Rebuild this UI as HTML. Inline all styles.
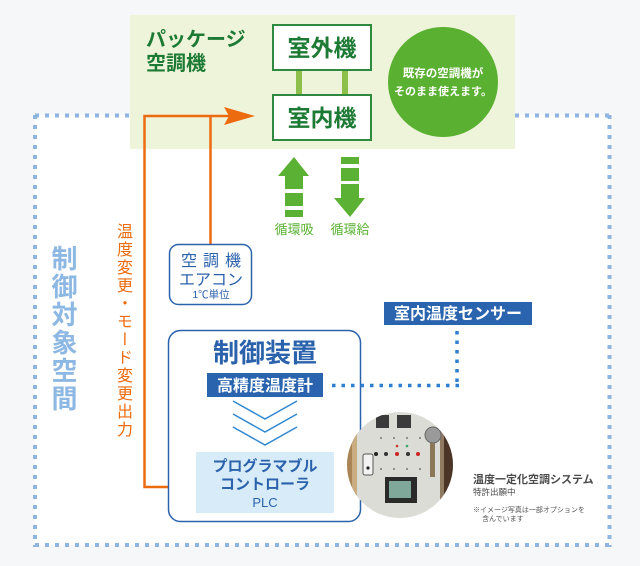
<!DOCTYPE html>
<html><head><meta charset="utf-8">
<style>
html,body{margin:0;padding:0;}
body{width:640px;height:566px;background:#f5f7f9;position:relative;overflow:hidden;font-family:"Liberation Sans","Noto Sans CJK JP",sans-serif;}
svg{position:absolute;left:0;top:0;}
.v{position:absolute;writing-mode:vertical-rl;line-height:1;font-family:"Liberation Sans","Noto Sans CJK JP",sans-serif;white-space:nowrap;}
</style></head><body>
<svg width="640" height="566" viewBox="0 0 640 566" font-family="Liberation Sans, Noto Sans CJK JP, sans-serif">
  <defs>
    <clipPath id="ph"><circle cx="400" cy="465" r="53"/></clipPath>
  </defs>
  <!-- white inner area -->
  <rect x="35" y="115" width="575" height="430" fill="#ffffff"/>
  <!-- dotted border -->
  <g stroke="#8db5e0" stroke-width="4" stroke-dasharray="4 6" fill="none">
    <line x1="35" y1="115.5" x2="610" y2="115.5"/>
    <line x1="35" y1="545" x2="610" y2="545"/>
    <line x1="35" y1="115" x2="35" y2="547"/>
    <line x1="609.5" y1="115" x2="609.5" y2="547"/>
  </g>
  <!-- green package area -->
  <rect x="130" y="15" width="385" height="134" fill="#eef4da"/>
  <text x="146" y="46" font-size="20" font-weight="bold" fill="#1c7a34">パッケージ</text>
  <text x="146" y="70" font-size="20" font-weight="bold" fill="#1c7a34">空調機</text>
  <!-- connector bars -->
  <rect x="296" y="70" width="6" height="25" fill="#8cc04b"/>
  <rect x="342" y="70" width="6" height="25" fill="#8cc04b"/>
  <!-- boxes -->
  <rect x="273" y="25" width="98" height="45" fill="#fff" stroke="#2f8a3f" stroke-width="2"/>
  <text x="322" y="56" font-size="23" font-weight="bold" fill="#1c7a34" text-anchor="middle">室外機</text>
  <rect x="273" y="95" width="98" height="45" fill="#fff" stroke="#2f8a3f" stroke-width="2"/>
  <text x="322" y="126" font-size="23" font-weight="bold" fill="#1c7a34" text-anchor="middle">室内機</text>
  <!-- green circle -->
  <circle cx="443" cy="82" r="55" fill="#5ab031"/>
  <text x="443" y="77" font-size="11.5" font-weight="bold" fill="#fff" text-anchor="middle">既存の空調機が</text>
  <text x="443" y="95" font-size="11" font-weight="bold" fill="#fff" text-anchor="middle">そのまま使えます。</text>

  <!-- orange lines -->
  <g stroke="#ec6b0e" stroke-width="2.5" fill="none">
    <polyline points="168,487 144.5,487 144.5,116 232,116"/>
    <line x1="210.5" y1="116" x2="210.5" y2="244"/>
  </g>
  <polygon points="224,107 255,116 224,125 229,116" fill="#ec6b0e"/>

  <!-- green arrows -->
  <g fill="#5bb133">
    <polygon points="294,157 309,176 303,176 303,189 285,189 285,176 278,176"/>
    <rect x="285" y="193" width="18" height="13"/>
    <rect x="285" y="210" width="18" height="7"/>
    <rect x="341" y="157" width="18" height="7"/>
    <rect x="341" y="168" width="18" height="13"/>
    <polygon points="341,184 359,184 359,198 365,198 350,217 334,198 341,198"/>
  </g>
  <text x="294" y="234" font-size="13" fill="#5bb133" text-anchor="middle">循環吸</text>
  <text x="350" y="234" font-size="13" fill="#5bb133" text-anchor="middle">循環給</text>

  <!-- aircon box -->
  <rect x="169.5" y="244.5" width="82" height="60" rx="9" fill="#fff" stroke="#2b62ac" stroke-width="1.5"/>
  <text x="214" y="266" font-size="16" fill="#2b62ac" text-anchor="middle" letter-spacing="6">空調機</text>
  <text x="211" y="285" font-size="16" fill="#2b62ac" text-anchor="middle">エアコン</text>
  <text x="211" y="298" font-size="10.5" fill="#2b62ac" text-anchor="middle">1℃単位</text>

  <!-- control device box -->
  <rect x="168.5" y="330.5" width="192" height="191" rx="12" fill="#fff" stroke="#2b62ac" stroke-width="1.5"/>
  <text x="265" y="362" font-size="26" font-weight="bold" fill="#2b62ac" text-anchor="middle">制御装置</text>
  <rect x="207" y="373" width="116" height="24" fill="#2a63ae"/>
  <text x="265" y="391" font-size="16" font-weight="bold" fill="#fff" text-anchor="middle">高精度温度計</text>
  <g stroke="#3088d0" stroke-width="1.5" fill="none">
    <polyline points="233,401 265,419 297,401"/>
    <polyline points="233,414 265,432 297,414"/>
    <polyline points="233,427 265,445 297,427"/>
  </g>
  <rect x="196" y="452" width="138" height="61" fill="#d7ebf8"/>
  <text x="265" y="471" font-size="15" font-weight="bold" fill="#2b62ac" text-anchor="middle">プログラマブル</text>
  <text x="265" y="489" font-size="15" font-weight="bold" fill="#2b62ac" text-anchor="middle">コントローラ</text>
  <text x="265" y="507" font-size="13" fill="#2b62ac" text-anchor="middle">PLC</text>

  <!-- sensor -->
  <rect x="384" y="302" width="148" height="23" fill="#2a63ae"/>
  <text x="458" y="319" font-size="16" font-weight="bold" fill="#fff" text-anchor="middle">室内温度センサー</text>
  <g stroke="#2e7fcf" stroke-width="3.5" stroke-dasharray="3.5 6" fill="none">
    <line x1="457" y1="331" x2="457" y2="388"/>
    <line x1="332" y1="385.5" x2="459" y2="385.5"/>
  </g>

  <!-- photo -->
  <g clip-path="url(#ph)">
    <rect x="340" y="405" width="120" height="120" fill="#dcdcd6"/>
    <rect x="340" y="405" width="17" height="120" fill="#a98556"/>
    <rect x="352" y="405" width="5" height="120" fill="#c9ad80"/>
    <rect x="444" y="405" width="16" height="120" fill="#4a3526"/>
    <rect x="440" y="405" width="4" height="120" fill="#8f7a62"/>
    <rect x="376" y="415" width="13" height="13" fill="#3a3a3a"/>
    <rect x="397" y="415" width="14" height="13" fill="#3a3a3a"/>
    <g fill="#777">
      <circle cx="381" cy="438" r="1"/><circle cx="394" cy="438" r="1"/><circle cx="407" cy="438" r="1"/><circle cx="420" cy="438" r="1"/>
      <circle cx="381" cy="469" r="1"/><circle cx="394" cy="469" r="1"/><circle cx="407" cy="469" r="1"/><circle cx="420" cy="469" r="1"/>
    </g>
    <circle cx="397" cy="446" r="1.3" fill="#c33"/>
    <circle cx="407" cy="446" r="1.3" fill="#3a6"/>
    <circle cx="376" cy="454" r="2" fill="#222"/>
    <circle cx="386" cy="454" r="2" fill="#333"/>
    <circle cx="397" cy="454" r="2" fill="#c22"/>
    <circle cx="408" cy="454" r="2" fill="#333"/>
    <circle cx="418" cy="454" r="2" fill="#c22"/>
    <rect x="363" y="454" width="10" height="21" rx="2" fill="#f2f2f0" stroke="#555" stroke-width="1"/>
    <circle cx="368" cy="468" r="1.6" fill="#222"/>
    <rect x="385" y="477" width="32" height="26" fill="#2a2a2a"/>
    <rect x="389" y="481" width="22" height="17" fill="#7fa79a"/>
    <circle cx="433" cy="435" r="8" fill="#9a9a9a" stroke="#666" stroke-width="1"/>
    <rect x="430" y="443" width="5" height="34" fill="#8a7858"/>
  </g>
  <text x="473" y="483" font-size="11" fill="#4a4a4a" font-weight="bold">温度一定化空調システム</text>
  <text x="473" y="495" font-size="8.5" fill="#4a4a4a">特許出願中</text>
  <text x="473" y="512" font-size="7" fill="#555">※イメージ写真は一部オプションを</text>
  <text x="482" y="521" font-size="7" fill="#555">含んでいます</text>
</svg>
<div class="v" style="left:50px;top:245px;font-size:26px;font-weight:bold;color:#8db8e3;letter-spacing:2px;width:26px;">制御対象空間</div>
<div class="v" style="left:114px;top:223px;font-size:16px;color:#ec6b0e;letter-spacing:2px;width:16px;">温度変更・モード変更出力</div>
</body></html>
